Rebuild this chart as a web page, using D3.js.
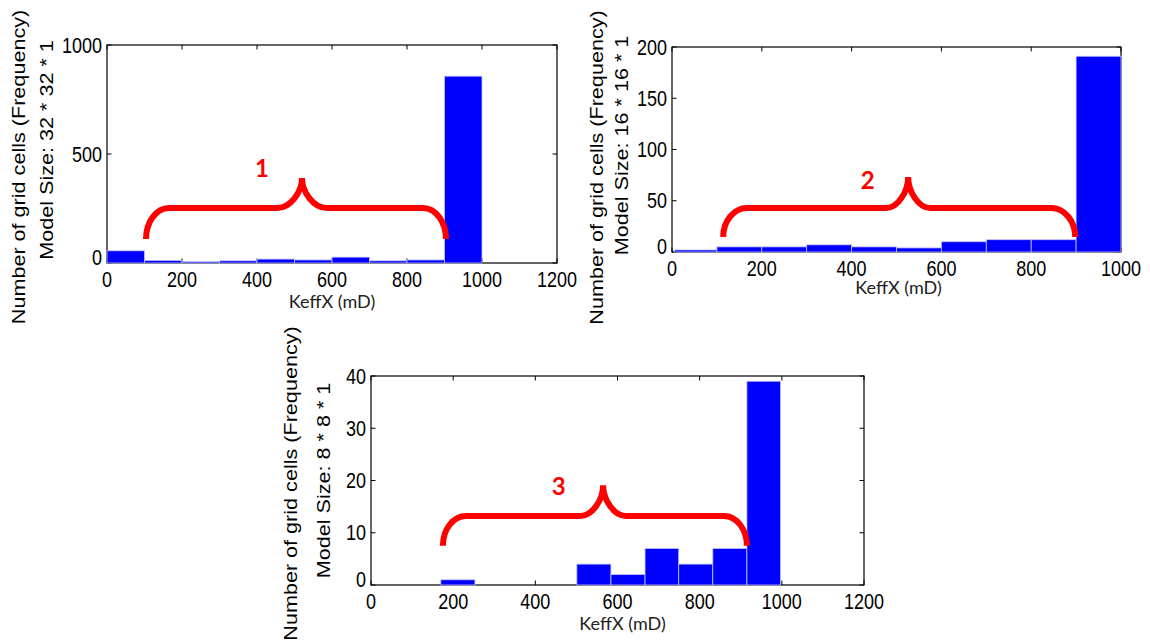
<!DOCTYPE html>
<html>
<head>
<meta charset="utf-8">
<script src="https://cdn.jsdelivr.net/npm/d3@7"></script>
<style>
  body { margin: 0; background: #fff; }
  svg { display: block; }
</style>
</head>
<body>
<div id="chart"></div>
<script>
// histogram bin edges (KeffX, mD) and counts for each model size
var edges32 = [0, 100, 200, 300, 400, 500, 600, 700, 800, 900, 1000];
var counts32 = [56, 12, 6, 10, 18, 14, 27, 10, 14, 857];

var edges16 = [5, 100, 200, 300, 400, 500, 600, 700, 800, 900, 1000];
var counts16 = [2, 5, 5, 7, 5, 4, 10, 12, 12, 191];

var edges8 = [170, 253, 336, 418, 501, 584, 667, 749, 832, 915, 997];
var counts8 = [1, 0, 0, 0, 4, 2, 7, 4, 7, 39];

var xTicks1200 = [0, 200, 400, 600, 800, 1000, 1200];
var xTicks1000 = [0, 200, 400, 600, 800, 1000];
var yTicks32 = [0, 500, 1000];
var yTicks16 = [0, 50, 100, 150, 200];
var yTicks8 = [0, 10, 20, 30, 40];

var yLabel = "Number of grid cells (Frequency)";
var xLabel = "KeffX (mD)";

var width = 1150;
var height = 643;
var tickLen = 4.5;
var stretch = 1.2; // the original figure is stretched vertically

var panels = [
  {
    left: 107, right: 557, top: 45, bottom: 263,
    xMax: 1200, yMax: 1000,
    edges: edges32, counts: counts32, xTicks: xTicks1200, yTicks: yTicks32,
    model: "Model Size: 32 * 32 * 1",
    l1: { dx: 82, dy: 13 }, l2: { dx: 54, dy: -4 }, xl: { dx: 0, dy: 45 },
    brace: { x0: 104, x1: 904, xm: 520, yEnd: 110, yLine: 252, yPeak: 390, rx: 23, rm: 25 },
    tag: { text: "1", x: 413, y: 436 }
  },
  {
    left: 672, right: 1121, top: 47, bottom: 252,
    xMax: 1000, yMax: 200,
    edges: edges16, counts: counts16, xTicks: xTicks1000, yTicks: yTicks16,
    model: "Model Size: 16 * 16 * 1",
    l1: { dx: 69, dy: 18 }, l2: { dx: 44, dy: -4 }, xl: { dx: 2, dy: 42 },
    brace: { x0: 114, x1: 898, xm: 526, yEnd: 14.6, yLine: 42.9, yPeak: 73.2, rx: 24, rm: 22 },
    tag: { text: "2", x: 436, y: 70 }
  },
  {
    left: 371, right: 864, top: 376, bottom: 585,
    xMax: 1200, yMax: 40,
    edges: edges8, counts: counts8, xTicks: xTicks1200, yTicks: yTicks8,
    model: "Model Size: 8 * 8 * 1",
    l1: { dx: 74, dy: 3 }, l2: { dx: 41, dy: 0 }, xl: { dx: 5, dy: 45 },
    brace: { x0: 175, x1: 915, xm: 565, yEnd: 7.5, yLine: 13.2, yPeak: 19.1, rx: 23, rm: 23 },
    tag: { text: "3", x: 457, y: 18.8 }
  }
];

var svg = d3.select("#chart")
  .append("svg")
  .attr("width", width)
  .attr("height", height);

function stretchedText(g, x, y, str, anchor, rotated) {
  return g.append("text")
    .attr("transform", `translate(${x},${y}) scale(1,${stretch})` + (rotated ? " rotate(-90)" : ""))
    .attr("text-anchor", anchor)
    .style("font-family", "'Liberation Sans', Arial, sans-serif")
    .style("font-size", "18px")
    .attr("fill", "#000")
    .text(str);
}

function bracePath(x0, x1, xm, yE, yL, yP, rx, rm) {
  var k = 0.552;
  return [
    `M${x0},${yE}`,
    `C${x0},${yE - k * (yE - yL)} ${x0 + rx - k * rx},${yL} ${x0 + rx},${yL}`,
    `L${xm - rm},${yL}`,
    `C${xm - rm + k * rm},${yL} ${xm},${yL - k * (yL - yP)} ${xm},${yP}`,
    `C${xm},${yL - k * (yL - yP)} ${xm + rm - k * rm},${yL} ${xm + rm},${yL}`,
    `L${x1 - rx},${yL}`,
    `C${x1 - rx + k * rx},${yL} ${x1},${yE - k * (yE - yL)} ${x1},${yE}`
  ].join(" ");
}

panels.forEach(function (p) {
  var x = d3.scaleLinear().domain([0, p.xMax]).range([p.left, p.right]);
  var y = d3.scaleLinear().domain([0, p.yMax]).range([p.bottom, p.top]);
  var g = svg.append("g");

  /* axes box and inward ticks (drawn under the bars, like matlab) */
  g.append("rect")
    .attr("x", p.left).attr("y", p.top)
    .attr("width", p.right - p.left).attr("height", p.bottom - p.top)
    .attr("fill", "none").attr("stroke", "#000").attr("stroke-width", 1.2);

  p.xTicks.forEach(function (t) {
    g.append("line").attr("x1", x(t)).attr("x2", x(t))
      .attr("y1", p.bottom).attr("y2", p.bottom - tickLen)
      .attr("stroke", "#000");
    g.append("line").attr("x1", x(t)).attr("x2", x(t))
      .attr("y1", p.top).attr("y2", p.top + tickLen)
      .attr("stroke", "#000");
    stretchedText(g, x(t), p.bottom + 24, t, "middle", false);
  });

  p.yTicks.forEach(function (t) {
    g.append("line").attr("x1", p.left).attr("x2", p.left + tickLen)
      .attr("y1", y(t)).attr("y2", y(t)).attr("stroke", "#000");
    g.append("line").attr("x1", p.right).attr("x2", p.right - tickLen)
      .attr("y1", y(t)).attr("y2", y(t)).attr("stroke", "#000");
    var shift = t === 0 ? -6 : 0;
    stretchedText(g, p.left - 5, y(t) + 7.7 + shift, t, "end", false);
  });

  /* bars */
  var bins = p.counts.map(function (c, i) {
    return { x0: p.edges[i], x1: p.edges[i + 1], n: c };
  });
  g.selectAll(".bar")
    .data(bins)
    .enter()
    .append("rect")
    .attr("class", "bar")
    .attr("x", (d) => x(d.x0))
    .attr("width", (d) => x(d.x1) - x(d.x0))
    .attr("y", (d) => y(d.n))
    .attr("height", (d) => y(0) - y(d.n))
    .attr("fill", "#0000ff")
    .attr("stroke", "#c4c4ff")
    .attr("stroke-width", 0.8);

  /* labels */
  var cy = (p.top + p.bottom) / 2;
  stretchedText(g, p.left - p.l1.dx, cy + p.l1.dy, yLabel, "middle", true);
  stretchedText(g, p.left - p.l2.dx, cy + p.l2.dy, p.model, "middle", true);

  g.append("text")
    .attr("x", (p.left + p.right) / 2 + p.xl.dx)
    .attr("y", p.bottom + p.xl.dy)
    .attr("text-anchor", "middle")
    .style("font-family", "Lato, 'Open Sans', sans-serif")
    .style("font-size", "18px")
    .attr("fill", "#222")
    .text(xLabel);

  /* red brace annotation */
  var b = p.brace;
  g.append("path")
    .attr("d", bracePath(x(b.x0), x(b.x1), x(b.xm), y(b.yEnd), y(b.yLine), y(b.yPeak), b.rx, b.rm))
    .attr("fill", "none")
    .attr("stroke", "#ff0000")
    .attr("stroke-width", 6);

  g.append("text")
    .attr("x", x(p.tag.x))
    .attr("y", y(p.tag.y))
    .attr("dy", "0.36em")
    .attr("text-anchor", "middle")
    .style("font-family", "Lato, sans-serif")
    .style("font-weight", "bold")
    .style("font-size", "24px")
    .attr("fill", "#ff0000")
    .text(p.tag.text);
});
</script>
</body>
</html>
